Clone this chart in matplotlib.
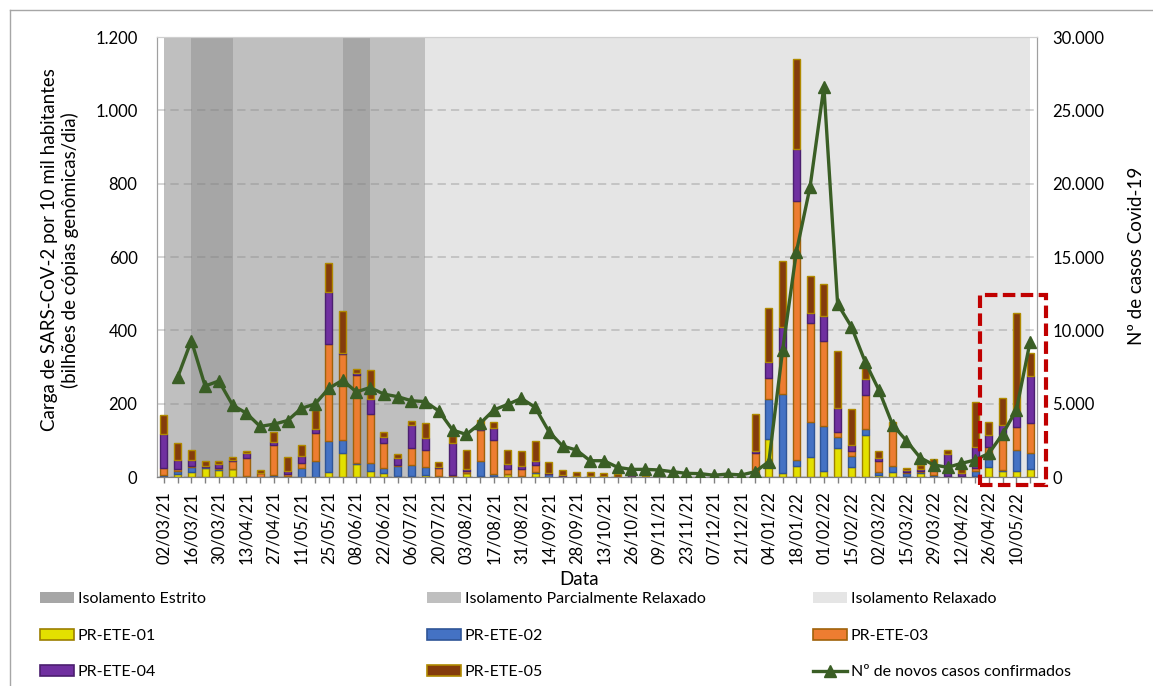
import numpy as np
import matplotlib
matplotlib.use('Agg')
import matplotlib.pyplot as plt
from matplotlib.patches import Patch, Rectangle
from matplotlib.lines import Line2D
from matplotlib.ticker import FuncFormatter

plt.rcParams['font.family'] = ['Lato', 'DejaVu Sans']

# ---------------- data ----------------
dates = ['02/03/21', '09/03/21', '16/03/21', '23/03/21', '30/03/21', '06/04/21', '13/04/21', '20/04/21',
         '27/04/21', '04/05/21', '11/05/21', '18/05/21', '25/05/21', '01/06/21', '08/06/21', '15/06/21',
         '22/06/21', '29/06/21', '06/07/21', '13/07/21', '20/07/21', '27/07/21', '03/08/21', '10/08/21',
         '17/08/21', '24/08/21', '31/08/21', '07/09/21', '14/09/21', '21/09/21', '28/09/21', '05/10/21',
         '13/10/21', '19/10/21', '26/10/21', '02/11/21', '09/11/21', '16/11/21', '23/11/21', '30/11/21',
         '07/12/21', '14/12/21', '21/12/21', '28/12/21', '04/01/22', '11/01/22', '18/01/22', '25/01/22',
         '01/02/22', '08/02/22', '15/02/22', '22/02/22', '02/03/22', '08/03/22', '15/03/22', '22/03/22',
         '29/03/22', '05/04/22', '12/04/22', '19/04/22', '26/04/22', '03/05/22', '10/05/22', '17/05/22']

ete01 = [3, 8, 14, 24, 19, 22, 1, 1, 4, 2, 1, 1, 15, 66, 35, 17, 12, 4, 4, 6, 1, 2, 10, 4, 4, 7, 1, 12,
         1, 0, 0, 0, 0, 0, 0, 0, 0, 0, 0, 0, 0, 0, 0, 3, 105, 10, 31, 55, 16, 78, 26, 115, 5, 13, 4, 12,
         2, 1, 0, 3, 28, 16, 17, 21]
ete02 = [2, 8, 12, 2, 4, 1, 2, 0, 1, 1, 23, 43, 83, 36, 4, 20, 12, 27, 29, 20, 1, 1, 1, 39, 5, 1, 1, 1,
         7, 0, 0, 0, 0, 0, 0, 0, 0, 0, 0, 0, 0, 0, 0, 1, 108, 216, 15, 94, 124, 30, 31, 15, 10, 18, 6, 2,
         4, 1, 1, 13, 21, 2, 56, 45]
ete03 = [20, 6, 5, 2, 2, 20, 49, 10, 82, 5, 14, 77, 266, 233, 239, 136, 68, 2, 45, 47, 22, 3, 6, 86, 93,
         13, 19, 21, 1, 4, 1, 0, 0, 1, 0, 0, 0, 0, 0, 0, 0, 0, 0, 61, 56, 120, 706, 272, 232, 15, 14, 95,
         28, 97, 3, 2, 14, 1, 2, 9, 34, 86, 64, 80]
ete04 = [92, 24, 15, 2, 11, 4, 14, 1, 9, 9, 20, 9, 141, 4, 7, 41, 18, 19, 64, 34, 2, 86, 6, 1, 33, 15, 9,
         11, 1, 1, 3, 4, 4, 0, 6, 0, 0, 0, 0, 0, 0, 0, 0, 7, 45, 62, 142, 25, 68, 65, 15, 42, 8, 5, 6, 5,
         3, 59, 7, 57, 32, 37, 41, 130]
ete05 = [53, 48, 29, 15, 7, 8, 6, 6, 28, 38, 30, 52, 78, 115, 9, 79, 13, 10, 12, 40, 14, 21, 51, 25, 16,
         39, 40, 54, 30, 15, 11, 11, 8, 6, 1, 3, 3, 1, 1, 1, 1, 1, 1, 101, 148, 182, 245, 103, 86, 155, 100,
         43, 20, 17, 5, 11, 26, 11, 15, 122, 34, 74, 268, 63]

new_cases = [np.nan, 6800, 9300, 6200, 6550, 4900, 4350, 3450, 3600, 3850, 4680, 4980, 6050, 6600, 5800,
             6100, 5650, 5480, 5200, 5140, 4500, 3200, 2900, 3650, 4570, 4950, 5360, 4750, 3100, 2110, 1840,
             1110, 1110, 660, 520, 520, 480, 360, 250, 230, 120, 200, 140, 360, 1050, 8650, 15350, 19800,
             26600, 11800, 10250, 7860, 5930, 3550, 2480, 1320, 820, 660, 930, 1160, 1610, 2930, 4570, 9230]

series_names = ['PR-ETE-01', 'PR-ETE-02', 'PR-ETE-03', 'PR-ETE-04', 'PR-ETE-05']
series_values = [ete01, ete02, ete03, ete04, ete05]
line_name = 'Nº de novos casos confirmados'

phase_names = ['Isolamento Estrito', 'Isolamento Parcialmente Relaxado', 'Isolamento Relaxado']
# (start date, end date, phase index)
phase_periods = [('02/03/21', '16/03/21', 1), ('16/03/21', '06/04/21', 0), ('06/04/21', '01/06/21', 1),
                 ('01/06/21', '15/06/21', 0), ('15/06/21', '13/07/21', 1), ('13/07/21', '17/05/22', 2)]
highlight_start, highlight_end = '26/04/22', '17/05/22'

# ---------------- style ----------------
bar_colors = ['#E3E000', '#4472C4', '#ED7D31', '#7030A0', '#843C0C']
bar_edges = ['#9C7F00', '#2F5597', '#A0620A', '#4B1F6F', '#B08A00']
phase_colors = ['#A6A6A6', '#BFBFBF', '#E5E5E5']
line_color = '#3A5E25'

W, H = 1153, 686
fig = plt.figure(figsize=(W / 100, H / 100), dpi=100)
ax = fig.add_axes([157 / W, 1 - 477 / H, 880 / W, 440 / H])
ax2 = ax.twinx()

x = np.arange(len(dates))
idx = {d: i for i, d in enumerate(dates)}

for s, e, p in phase_periods:
    ax.axvspan(idx[s], idx[e], color=phase_colors[p], lw=0, zorder=0)

ax.set_axisbelow(True)
ax.yaxis.grid(True, color=(0.5, 0.5, 0.5), alpha=0.35, lw=1.3, linestyle=(0, (4.6, 2.8)))

bottom = np.zeros(len(dates))
for vals, c, ec in zip(series_values, bar_colors, bar_edges):
    v = np.array(vals, dtype=float)
    ax.bar(x, v, bottom=bottom, width=0.5, color=c, edgecolor=ec, linewidth=1.0, zorder=2)
    bottom += v

ax2.plot(x, new_cases, color=line_color, lw=2.4, marker='^', markersize=8.5, zorder=5)

ax.set_xlim(-0.5, len(dates) - 0.5)
ax.set_ylim(0, 1200)
ax2.set_ylim(0, 30000)

fmt = FuncFormatter(lambda v, _: f'{int(round(v)):,}'.replace(',', '.'))
ax.set_yticks(range(0, 1201, 200))
ax.yaxis.set_major_formatter(fmt)
ax2.set_yticks(range(0, 30001, 5000))
ax2.yaxis.set_major_formatter(fmt)

ax.set_xticks(x)
ax.set_xticklabels([d if i % 2 == 0 else '' for i, d in enumerate(dates)], rotation=90,
                   fontsize=12, color='#000000')
ax.tick_params(axis='x', direction='out', length=4, width=1, color='#808080', pad=6)
ax.tick_params(axis='y', length=0, pad=14, labelsize=12)
ax2.tick_params(axis='y', length=0, pad=11, labelsize=12)

for a in (ax, ax2):
    a.spines['left'].set_color('#A0A0A0')
    a.spines['right'].set_color('#A0A0A0')
    a.spines['bottom'].set_color('#808080')
    a.spines['top'].set_color('#CFCFCF')

ax.set_xlabel('Data', fontsize=13.5)
ax.xaxis.set_label_coords((579 - 157) / 880, (477 - 571) / 440)
fig.text(60 / W, 1 - 250 / H, 'Carga de SARS-CoV-2 por 10 mil habitantes\n(bilhões de cópias genômicas/dia)',
         rotation=90, ha='center', va='center', fontsize=13.5, linespacing=1.15)
fig.text(1137 / W, 1 - 256 / H, 'Nº de casos Covid-19', rotation=90, ha='center', va='center', fontsize=13.5)

# highlight box around the last weeks
hs, he = idx[highlight_start], idx[highlight_end]
ax2.add_patch(Rectangle((hs - 0.65, -22), (he + 1.17) - (hs - 0.65), 518, transform=ax.transData,
                        fill=False, ec='#C00000', lw=3, linestyle=(0, (3, 1.3)), clip_on=False, zorder=10))

# legends
ph = [Patch(facecolor=c, edgecolor='none') for c in phase_colors]
bh = [Patch(facecolor=c, edgecolor=ec, linewidth=1.2) for c, ec in zip(bar_colors, bar_edges)]
lh = Line2D([], [], color=line_color, lw=2.4, marker='^', markersize=8.5)
cols = [([ph[0], bh[0], bh[3]], [phase_names[0], series_names[0], series_names[3]], 40),
        ([ph[1], bh[1], bh[4]], [phase_names[1], series_names[1], series_names[4]], 427),
        ([ph[2], bh[2], lh], [phase_names[2], series_names[2], line_name], 813)]
for hnd, lab, xpos in cols:
    fig.legend(hnd, lab, loc='upper left', bbox_to_anchor=(xpos / W, 1 - 592 / H), frameon=False,
               borderpad=0, borderaxespad=0, fontsize=11.5, handlelength=2.1, handleheight=0.7,
               handletextpad=0.25, labelspacing=1.4)

# chart border
fig.add_artist(Line2D([10 / W, 10 / W], [0, 1 - 10 / H], transform=fig.transFigure, color='#A6A6A6', lw=1))
fig.add_artist(Line2D([10 / W, 1], [1 - 10 / H, 1 - 10 / H], transform=fig.transFigure, color='#A6A6A6', lw=1))

fig.savefig('out.png', dpi=100)
